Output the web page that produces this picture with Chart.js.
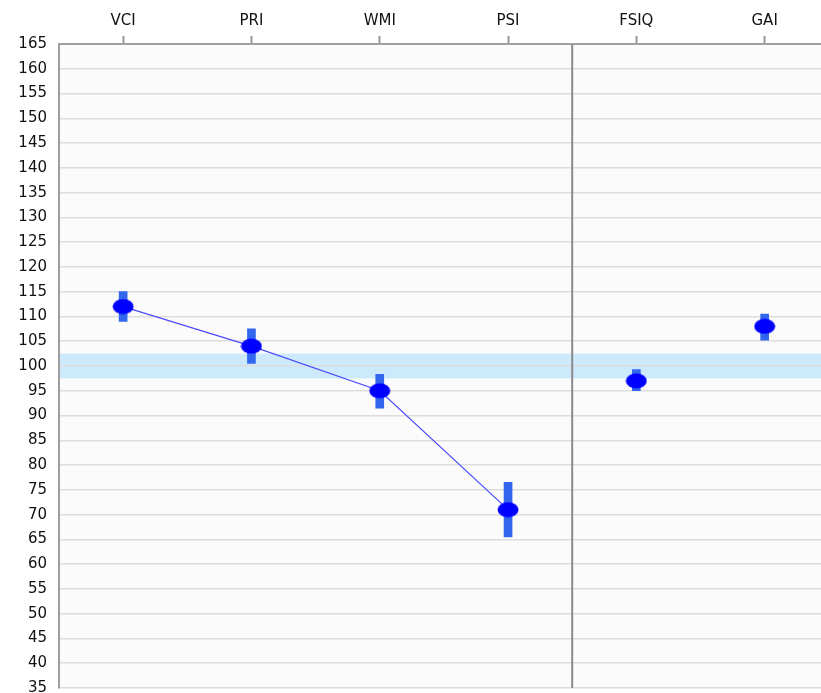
<!DOCTYPE html>
<html>
<head>
<meta charset="utf-8">
<script src="https://cdn.jsdelivr.net/npm/chart.js@4.4.1/dist/chart.umd.min.js"></script>
<style>
  html, body { margin: 0; padding: 0; background: #fff; overflow: hidden; }
  #wrap { width: 821px; height: 693px; overflow: hidden; }
</style>
</head>
<body>
<div id="wrap"><canvas id="scoreChart" width="834" height="709"></canvas></div>
<script>
// index scores
const labels = ['VCI', 'PRI', 'WMI', 'PSI', 'FSIQ', 'GAI'];
const indexScores = [112, 104, 95, 71, null, null];
const compositeScores = [null, null, null, null, 97, 108];
const ciLow = [109, 100.5, 91.5, 65.5, 95, 105.2];
const ciHigh = [115, 107.5, 98.3, 76.5, 99.3, 110.5];
const normBand = [97.5, 102.5];
const yTicks = { min: 35, max: 165, step: 5 };

// ellipse marker for the points
const makeDot = () => {
    const c = document.createElement('canvas');
    c.width = 22; c.height = 16;
    const g = c.getContext('2d');
    g.fillStyle = '#0000ff';
    g.beginPath();
    g.ellipse(11, 8, 10.5, 7.5, 0, 0, Math.PI * 2);
    g.fill();
    return c;
};
const dot = makeDot();

// background, band and separator
const decorPlugin = {
    id: 'decor',
    beforeDraw(chart) {
        const { ctx, chartArea: a, scales } = chart;
        ctx.save();
        ctx.fillStyle = '#fbfbfb';
        ctx.fillRect(a.left, a.top, a.right - a.left, a.bottom - a.top);
        const yTop = scales.y.getPixelForValue(normBand[1]);
        const yBot = scales.y.getPixelForValue(normBand[0]);
        ctx.fillStyle = '#cdeafc';
        ctx.fillRect(a.left, yTop, a.right - a.left, yBot - yTop);
        ctx.restore();
    },
    beforeDatasetsDraw(chart) {
        const { ctx, chartArea: a, scales } = chart;
        const x = (scales.x.getPixelForValue(3) + scales.x.getPixelForValue(4)) / 2;
        ctx.save();
        ctx.strokeStyle = '#8a8a8a';
        ctx.lineWidth = 2;
        ctx.beginPath();
        ctx.moveTo(x, a.top);
        ctx.lineTo(x, a.bottom);
        ctx.stroke();
        ctx.restore();
    }
};

const ctx = document.getElementById('scoreChart').getContext('2d');
new Chart(ctx, {
    data: {
        labels: labels,
        datasets: [
            {
                type: 'line',
                data: indexScores,
                borderColor: '#4a4aff',
                borderWidth: 1.2,
                pointStyle: dot,
                spanGaps: false,
                order: 0
            },
            {
                type: 'line',
                data: compositeScores,
                showLine: false,
                pointStyle: dot,
                order: 0
            },
            {
                type: 'bar',
                data: labels.map((l, i) => [ciLow[i], ciHigh[i]]),
                backgroundColor: '#3366ee',
                barThickness: 8,
                order: 2
            }
        ]
    },
    options: {
        responsive: false,
        animation: false,
        layout: { padding: { left: 0, right: 0, top: 0, bottom: 0 } },
        plugins: { legend: { display: false }, tooltip: { enabled: false } },
        scales: {
            x: {
                position: 'top',
                offset: true,
                grid: {
                    offset: false,
                    drawOnChartArea: false,
                    tickLength: 8,
                    tickColor: '#999',
                    tickWidth: 2
                },
                border: { color: '#a0a0a0', width: 2 },
                ticks: { color: '#111', font: { family: 'DejaVu Sans', size: 15 }, padding: 6 },
                afterFit(s) { s.height = 44; }
            },
            y: {
                min: yTicks.min,
                max: yTicks.max,
                ticks: {
                    stepSize: yTicks.step,
                    color: '#111',
                    font: { family: 'DejaVu Sans', size: 15 },
                    padding: 12
                },
                grid: { color: '#dddddd', lineWidth: 1.5, drawTicks: false },
                border: { color: '#a0a0a0', width: 2 },
                afterFit(s) { s.width = 59; }
            }
        }
    },
    plugins: [decorPlugin]
});
</script>
</body>
</html>
